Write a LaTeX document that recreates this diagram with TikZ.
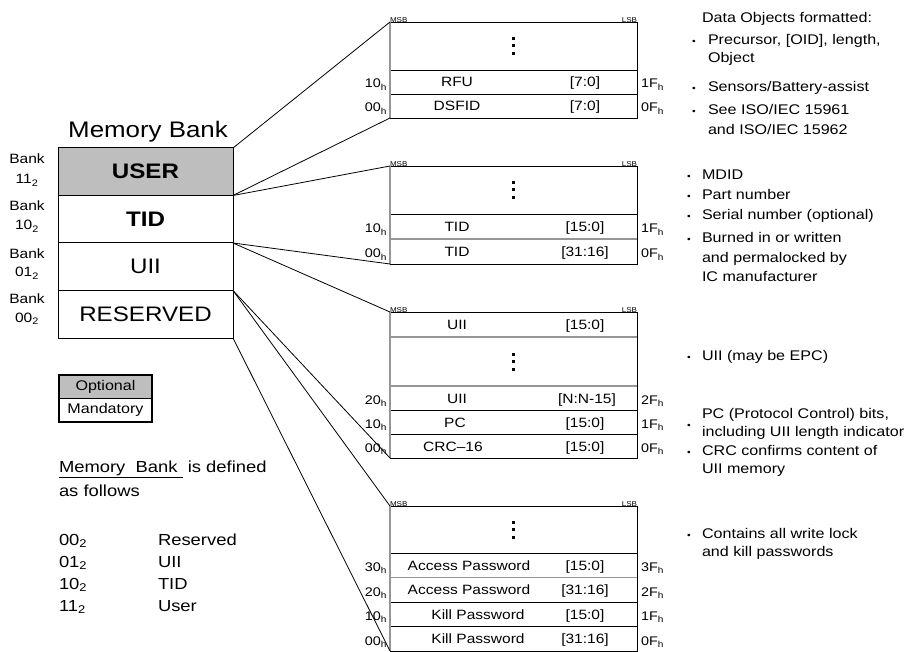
\documentclass[tikz,border=0pt]{standalone}
\usepackage{fontspec}
\usetikzlibrary{calc}
\setmainfont{Liberation Sans}[FakeStretch=1.15]
\definecolor{optgray}{RGB}{190,190,190}
\definecolor{edgegray}{RGB}{150,150,150}
\begin{document}
\begin{tikzpicture}[x=1pt,y=-1pt,
  every node/.style={inner sep=0pt, outer sep=0pt},
  bank/.style={draw, line width=1pt, minimum width=175pt, font=\fontsize{21}{24}\selectfont},
  cell/.style={draw, line width=0.9pt, minimum width=247pt},
  celltxt/.style={font=\fontsize{13.5}{15}\selectfont, anchor=base},
  addrl/.style={font=\fontsize{12.5}{14}\selectfont, anchor=base east},
  addrr/.style={font=\fontsize{12.5}{14}\selectfont, anchor=base west},
  tinytxt/.style={font=\fontsize{7}{8}\selectfont},
  desc/.style={font=\fontsize{14}{16}\selectfont, anchor=base west},
  bul/.style={font=\fontsize{9}{10}\selectfont, anchor=base},
  banklab/.style={font=\fontsize{13.5}{15}\selectfont, anchor=base},
  conn/.style={line width=0.8pt, black},
  edge/.style={line width=2pt, edgegray},
  dotsq/.style={fill=black},
]
\useasboundingbox (0,0) rectangle (910,652);

% ---------- Memory bank ----------
\node[font=\fontsize{22.5}{26}\selectfont, anchor=base] (mbtitle) at (148,138) {Memory Bank};
\node[bank, fill=optgray, minimum height=47.5pt, font=\fontsize{21}{24}\selectfont\bfseries] (user) at (145.5,171.75) {USER};
\node[bank, minimum height=47.5pt, font=\fontsize{21}{24}\selectfont\bfseries] (tid) at (145.5,219.25) {TID};
\node[bank, minimum height=47.5pt] (uii) at (145.5,266.75) {UII};
\node[bank, minimum height=47.5pt] (res) at (145.5,314.25) {RESERVED};

\node[banklab] (bk3a) at (27,164) {Bank};
\node[banklab] (bk3b) at (27,184) {11\textsubscript{2}};
\node[banklab] (bk2a) at (27,211) {Bank};
\node[banklab] (bk2b) at (27,230) {10\textsubscript{2}};
\node[banklab] (bk1a) at (27,259) {Bank};
\node[banklab] (bk1b) at (27,277) {01\textsubscript{2}};
\node[banklab] (bk0a) at (27,304) {Bank};
\node[banklab] (bk0b) at (27,322) {00\textsubscript{2}};

% ---------- Legend ----------
\node[draw, line width=1.1pt, fill=optgray, minimum width=93pt, minimum height=23.5pt, font=\fontsize{14}{16}\selectfont] (opt) at (105.5,386.75) {Optional};
\node[draw, line width=1.1pt, minimum width=93pt, minimum height=23.5pt, font=\fontsize{14}{16}\selectfont] (man) at (105.5,410.25) {Mandatory};

\node[font=\fontsize{16}{18}\selectfont, anchor=base west] (def1) at (59,472) {\underline{Memory\ \ Bank\ }\ is defined};
\node[font=\fontsize{16}{18}\selectfont, anchor=base west] (def2) at (59,496) {as\ follows};
\node[font=\fontsize{16}{18}\selectfont, anchor=base west] (c00) at (59,545) {00\textsubscript{2}};
\node[font=\fontsize{16}{18}\selectfont, anchor=base west] (n00) at (158,545) {Reserved};
\node[font=\fontsize{16}{18}\selectfont, anchor=base west] (c01) at (59,567) {01\textsubscript{2}};
\node[font=\fontsize{16}{18}\selectfont, anchor=base west] (n01) at (158,567) {UII};
\node[font=\fontsize{16}{18}\selectfont, anchor=base west] (c10) at (59,589) {10\textsubscript{2}};
\node[font=\fontsize{16}{18}\selectfont, anchor=base west] (n10) at (158,589) {TID};
\node[font=\fontsize{16}{18}\selectfont, anchor=base west] (c11) at (59,611) {11\textsubscript{2}};
\node[font=\fontsize{16}{18}\selectfont, anchor=base west] (n11) at (158,611) {User};

% ---------- Block 1 (USER) ----------
\node[cell, minimum height=48pt] (b1d) at (513.5,46) {};
\node[cell, minimum height=24pt] (b1r1) at (513.5,82) {};
\node[cell, minimum height=24pt] (b1r2) at (513.5,106) {};
\foreach \dy in {-7.5,0,7.5} \fill[dotsq] ($(b1d.center)+(-1.5,\dy-1.5)$) rectangle +(3,3);
\draw[edge] (b1d.north west) -- (b1r2.south west);
\node[tinytxt, anchor=south west] (b1msb) at ([yshift=-1pt]b1d.north west) {MSB};
\node[tinytxt, anchor=south east] (b1lsb) at ([yshift=-1pt]b1d.north east) {LSB};
\node[celltxt] (b1r1n) at (457,87) {RFU};
\node[celltxt] (b1r1b) at (585,87) {[7:0]};
\node[celltxt] (b1r2n) at (457,111) {DSFID};
\node[celltxt] (b1r2b) at (585,111) {[7:0]};
\node[addrl] (b1a1) at (387,88) {10\textsubscript{h}};
\node[addrl] (b1a2) at (387,112) {00\textsubscript{h}};
\node[addrr] (b1e1) at (641,88) {1F\textsubscript{h}};
\node[addrr] (b1e2) at (641,112) {0F\textsubscript{h}};

% ---------- Block 2 (TID) ----------
\node[cell, minimum height=48pt] (b2d) at (513.5,190) {};
\node[cell, minimum height=25pt] (b2r1) at (513.5,226.5) {};
\node[cell, minimum height=25pt] (b2r2) at (513.5,251.5) {};
\foreach \dy in {-7.5,0,7.5} \fill[dotsq] ($(b2d.center)+(-1.5,\dy-1.5)$) rectangle +(3,3);
\draw[line width=1.5pt, edgegray] (b2r2.north west) -- (b2r2.north east);
\draw[edge] (b2d.north west) -- (b2r2.south west);
\node[tinytxt, anchor=south west] (b2msb) at ([yshift=-1pt]b2d.north west) {MSB};
\node[tinytxt, anchor=south east] (b2lsb) at ([yshift=-1pt]b2d.north east) {LSB};
\node[celltxt] (b2r1n) at (457,231.5) {TID};
\node[celltxt] (b2r1b) at (585,231.5) {[15:0]};
\node[celltxt] (b2r2n) at (457,256.5) {TID};
\node[celltxt] (b2r2b) at (585,256.5) {[31:16]};
\node[addrl] (b2a1) at (387,233) {10\textsubscript{h}};
\node[addrl] (b2a2) at (387,258) {00\textsubscript{h}};
\node[addrr] (b2e1) at (641,233) {1F\textsubscript{h}};
\node[addrr] (b2e2) at (641,258) {0F\textsubscript{h}};

% ---------- Block 3 (UII) ----------
\node[cell, minimum height=25pt] (b3r1) at (513.5,324.5) {};
\node[cell, minimum height=49pt] (b3d) at (513.5,361.5) {};
\node[cell, minimum height=24pt] (b3r3) at (513.5,398) {};
\node[cell, minimum height=24pt] (b3r4) at (513.5,422) {};
\node[cell, minimum height=24pt] (b3r5) at (513.5,446) {};
\foreach \dy in {-7.5,0,7.5} \fill[dotsq] ($(b3d.center)+(-1.5,\dy-1.5)$) rectangle +(3,3);
\draw[line width=1.5pt, edgegray] (b3d.north west) -- (b3d.north east);
\draw[line width=1.5pt, edgegray] (b3d.south west) -- (b3d.south east);
\draw[edge] (b3r1.north west) -- (b3r5.south west);
\node[tinytxt, anchor=south west] (b3msb) at ([yshift=-1pt]b3r1.north west) {MSB};
\node[tinytxt, anchor=south east] (b3lsb) at ([yshift=-1pt]b3r1.north east) {LSB};
\node[celltxt] (b3r1n) at (457,329.5) {UII};
\node[celltxt] (b3r1b) at (585,329.5) {[15:0]};
\node[celltxt] (b3r3n) at (457,403) {UII};
\node[celltxt] (b3r3b) at (587,403) {[N:N-15]};
\node[celltxt] (b3r4n) at (455,427) {PC};
\node[celltxt] (b3r4b) at (585,427) {[15:0]};
\node[celltxt] (b3r5n) at (453,451) {CRC--16};
\node[celltxt] (b3r5b) at (585,451) {[15:0]};
\node[addrl] (b3a3) at (387,404) {20\textsubscript{h}};
\node[addrl] (b3a4) at (387,428) {10\textsubscript{h}};
\node[addrl] (b3a5) at (387,452) {00\textsubscript{h}};
\node[addrr] (b3e3) at (641,404) {2F\textsubscript{h}};
\node[addrr] (b3e4) at (641,428) {1F\textsubscript{h}};
\node[addrr] (b3e5) at (641,452) {0F\textsubscript{h}};

% ---------- Block 4 (RESERVED) ----------
\node[cell, minimum height=47pt] (b4d) at (513.5,529.5) {};
\node[cell, minimum height=24.5pt] (b4r1) at (513.5,565.25) {};
\node[cell, minimum height=24.5pt] (b4r2) at (513.5,589.75) {};
\node[cell, minimum height=24.5pt] (b4r3) at (513.5,614.25) {};
\node[cell, minimum height=24.5pt] (b4r4) at (513.5,638.75) {};
\foreach \dy in {-7.5,0,7.5} \fill[dotsq] ($(b4d.center)+(-1.5,\dy-1.5)$) rectangle +(3,3);
\draw[line width=1.5pt, edgegray] (b4r2.north west) -- (b4r2.north east);
\draw[edge] (b4d.north west) -- (b4r4.south west);
\node[tinytxt, anchor=south west] (b4msb) at ([yshift=-1pt]b4d.north west) {MSB};
\node[tinytxt, anchor=south east] (b4lsb) at ([yshift=-1pt]b4d.north east) {LSB};
\node[celltxt] (b4r1n) at (469,570.25) {Access Password};
\node[celltxt] (b4r1b) at (585,570.25) {[15:0]};
\node[celltxt] (b4r2n) at (469,594.75) {Access Password};
\node[celltxt] (b4r2b) at (585,594.75) {[31:16]};
\node[celltxt] (b4r3n) at (478,619.25) {Kill Password};
\node[celltxt] (b4r3b) at (585,619.25) {[15:0]};
\node[celltxt] (b4r4n) at (478,643.75) {Kill Password};
\node[celltxt] (b4r4b) at (585,643.75) {[31:16]};
\node[addrl] (b4a1) at (387,571) {30\textsubscript{h}};
\node[addrl] (b4a2) at (387,596) {20\textsubscript{h}};
\node[addrl] (b4a3) at (387,620) {10\textsubscript{h}};
\node[addrl] (b4a4) at (387,645) {00\textsubscript{h}};
\node[addrr] (b4e1) at (641,571) {3F\textsubscript{h}};
\node[addrr] (b4e2) at (641,596) {2F\textsubscript{h}};
\node[addrr] (b4e3) at (641,620) {1F\textsubscript{h}};
\node[addrr] (b4e4) at (641,645) {0F\textsubscript{h}};

% ---------- Connectors ----------
\draw[conn] (user.north east) -- (b1d.north west);
\draw[conn] (user.south east) -- (b1r2.south west);
\draw[conn] (user.south east) -- (b2d.north west);
\draw[conn] (tid.south east) -- (b2r2.south west);
\draw[conn] (tid.south east) -- (b3r1.north west);
\draw[conn] (uii.south east) -- (b3r5.south west);
\draw[conn] (uii.south east) -- (b4d.north west);
\draw[conn] (res.south east) -- (b4r4.south west);

% ---------- Descriptions ----------
\node[desc] (t1h) at (702,23) {Data Objects formatted:};
\node[bul] (t1b1) at (694,45) {•};
\node[desc] (t1a) at (708,45) {Precursor, [OID], length,};
\node[desc] (t1b) at (708,63) {Object};
\node[bul] (t1b2) at (694,92) {•};
\node[desc] (t1c) at (708,92) {Sensors/Battery-assist};
\node[bul] (t1b3) at (694,115) {•};
\node[desc] (t1d) at (708,115) {See ISO/IEC 15961};
\node[desc] (t1e) at (708,135) {and ISO/IEC 15962};

\node[bul] (t2b1) at (689,180) {•};
\node[desc] (t2a) at (702,180) {MDID};
\node[bul] (t2b2) at (689,200) {•};
\node[desc] (t2b) at (702,200) {Part number};
\node[bul] (t2b3) at (689,220) {•};
\node[desc] (t2c) at (702,220) {Serial number (optional)};
\node[bul] (t2b4) at (689,243) {•};
\node[desc] (t2d) at (702,243) {Burned in or written};
\node[desc] (t2e) at (702,263) {and permalocked by};
\node[desc] (t2f) at (702,282) {IC manufacturer};

\node[bul] (t3b1) at (689,360) {•};
\node[desc] (t3a) at (702,360) {UII (may be EPC)};
\node[desc] (t3b) at (702,418) {PC (Protocol Control) bits,};
\node[bul] (t3b2) at (689,428) {•};
\node[desc] (t3c) at (702,436) {including UII length indicator};
\node[bul] (t3b3) at (689,455) {•};
\node[desc] (t3d) at (702,455) {CRC confirms content of};
\node[desc] (t3e) at (702,473) {UII memory};

\node[bul] (t4b1) at (689,538) {•};
\node[desc] (t4a) at (702,538) {Contains all write lock};
\node[desc] (t4b) at (702,556) {and kill passwords};
\end{tikzpicture}
\end{document}
